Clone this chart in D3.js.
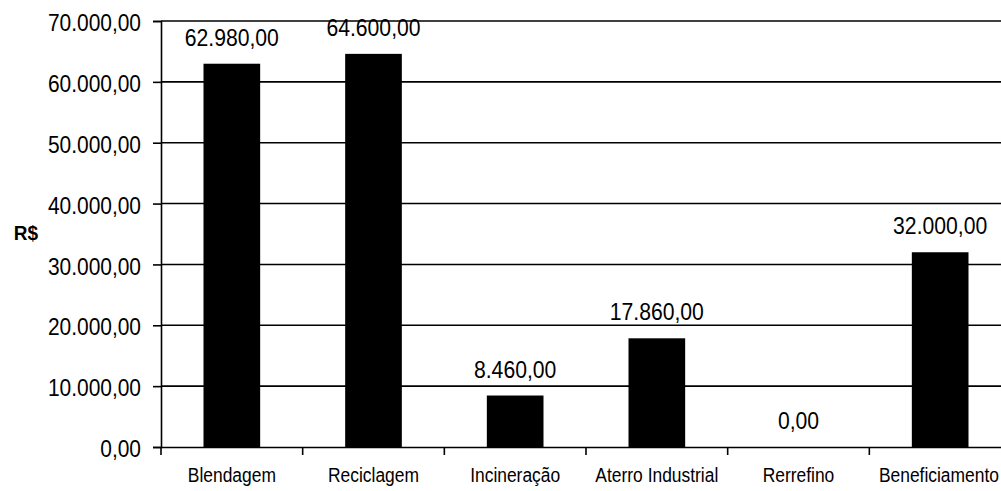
<!DOCTYPE html>
<html><head><meta charset="utf-8">
<script src="https://cdn.jsdelivr.net/npm/d3@7"></script>
<style>
html,body{margin:0;padding:0;background:#fff;}
svg{display:block;font-family:"Liberation Sans",Arial,sans-serif;}
</style></head>
<body>
<svg id="chart" width="1001" height="491"></svg>
<script>
const categories = ["Blendagem","Reciclagem","Incineração","Aterro Industrial","Rerrefino","Beneficiamento"];
const values = [62980, 64600, 8460, 17860, 0, 32000];
const yTicks = [0,10000,20000,30000,40000,50000,60000,70000];
const yTitle = "R$";

(function(){
const svg = d3.select("#chart");
const W = 1001;
const mLeft = 161, mRight = 1011, mTop = 21, mBottom = 447;

const fmt = v => {
  const s = d3.format(",.2f")(v);
  return s.replace(/,/g,"#").replace(".",",").replace(/#/g,".");
};
function condense(sel, k){
  sel.each(function(){
    const len = this.getComputedTextLength();
    d3.select(this).attr("textLength", len*k).attr("lengthAdjust","spacingAndGlyphs");
  });
}

const x = d3.scaleBand().domain(categories).range([mLeft,mRight]).paddingInner(0.6).paddingOuter(0.3);
const xb = d3.scaleBand().domain(categories).range([mLeft,mRight]);
const y = d3.scaleLinear().domain([0,70000]).range([mBottom,mTop]);

// gridlines
svg.append("g").selectAll("line").data(yTicks.filter(d=>d>0)).join("line")
  .attr("x1",mLeft).attr("x2",mRight).attr("y1",d=>y(d)).attr("y2",d=>y(d))
  .attr("stroke","#000").attr("stroke-width",1.6);

// bars
svg.append("g").selectAll("rect").data(values).join("rect")
  .attr("x",(d,i)=>x(categories[i])).attr("width",x.bandwidth())
  .attr("y",d=>y(d)).attr("height",d=>mBottom-y(d)).attr("fill","#000");

// y axis
const yAxis = d3.axisLeft(y).tickValues(yTicks).tickSize(8).tickPadding(12).tickFormat(fmt);
const ga = svg.append("g").attr("transform",`translate(${mLeft},0)`).call(yAxis);
ga.select(".domain").attr("stroke-width",1.6);
ga.selectAll(".tick line").attr("stroke-width",1.6);
ga.selectAll("text").attr("font-size",23).attr("font-family","Liberation Sans, Arial, sans-serif")
  .attr("fill","#000").attr("dy","0.42em").call(condense,0.91);

// x axis
const xAxis = d3.axisBottom(xb).tickSize(0);
const gx = svg.append("g").attr("transform",`translate(0,${mBottom})`).call(xAxis);
gx.select(".domain").attr("stroke-width",1.6);
const kx = 0.83;
gx.selectAll(".tick").each(function(d){
  const t = d3.select(this).select("text")
    .attr("font-size",21).attr("font-family","Liberation Sans, Arial, sans-serif")
    .attr("fill","#000").attr("y",35).attr("dy",0).attr("x",0);
  const half = t.node().getComputedTextLength()*kx/2;
  const cx = xb(d) + xb.bandwidth()/2;
  const over = Math.max(0, cx + half - (W - 2));
  t.attr("transform",`translate(${-over},0) scale(${kx},1)`);
});
// category separators
svg.append("g").selectAll("line").data(categories).join("line")
  .attr("x1",d=>xb(d)).attr("x2",d=>xb(d)).attr("y1",mBottom).attr("y2",mBottom+8)
  .attr("stroke","#000").attr("stroke-width",1.6);

// value labels
svg.append("g").selectAll("text").data(values).join("text")
  .attr("x",(d,i)=>x(categories[i])+x.bandwidth()/2)
  .attr("y",d=>y(d)-18)
  .attr("text-anchor","middle").attr("font-size",23).attr("fill","#000")
  .text(d=>fmt(d)).call(condense,0.92);

// y title
svg.append("text").attr("x",26).attr("y",240).attr("text-anchor","middle")
  .attr("font-size",20).attr("font-weight","bold").text(yTitle).call(condense,0.95);
})();
</script>
</body></html>
